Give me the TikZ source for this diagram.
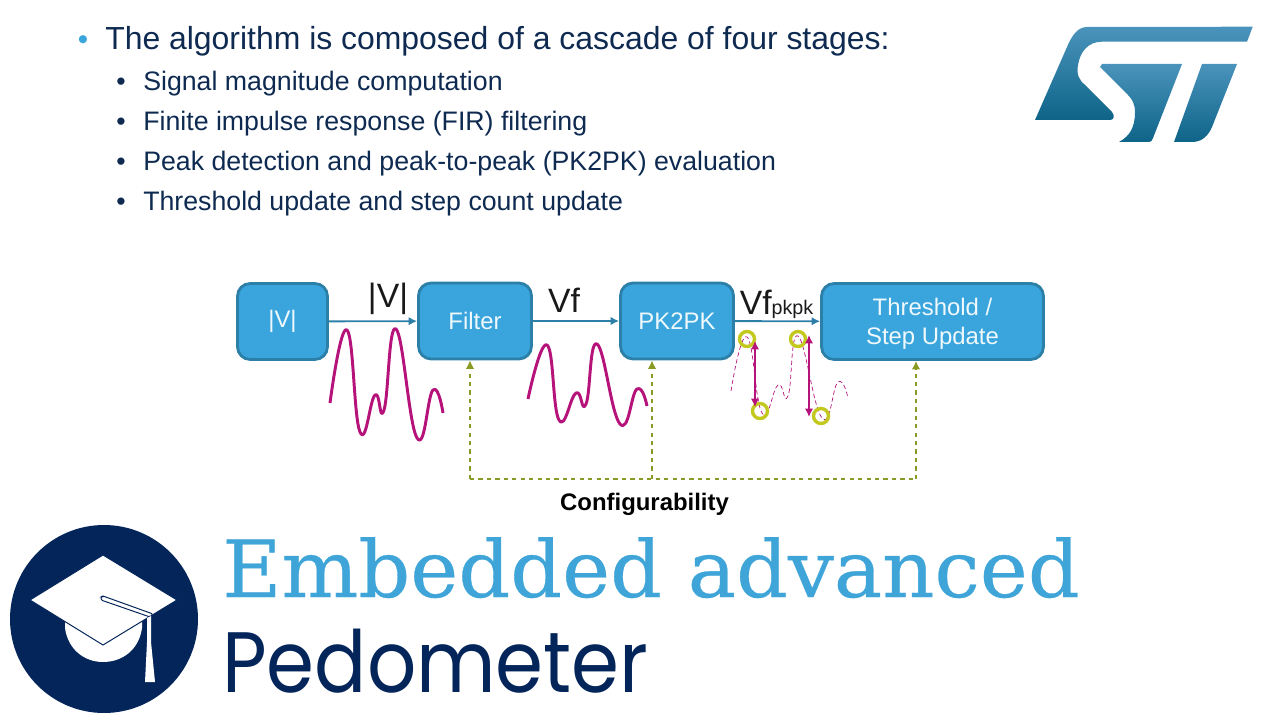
\documentclass[tikz,border=0pt]{standalone}
\usepackage{fontspec}
\setmainfont{Liberation Sans}
\newfontfamily\slabfont[FakeStretch=1.03, FakeBold=0.4]{DejaVu Serif}
\newfontfamily\roundfont[FakeStretch=0.9]{Poppins}
\usetikzlibrary{arrows.meta, positioning, calc}
\definecolor{stblue}{HTML}{39A5DC}
\definecolor{sttitle}{HTML}{3FA5D8}
\definecolor{stedge}{HTML}{2C7FA6}
\definecolor{stnavy}{HTML}{03255A}
\definecolor{stink}{HTML}{0E2A50}
\definecolor{stwave}{HTML}{B5127A}
\definecolor{stolive}{HTML}{8A9A24}
\definecolor{string}{HTML}{C3C81F}
\definecolor{sttop}{HTML}{4A93BC}
\definecolor{stlow}{HTML}{0E6488}

\begin{document}
\begin{tikzpicture}[x=0.025cm, y=-0.025cm,
    blockbox/.style={draw=stedge, fill=stblue, line width=2pt, rounded corners=9pt, text=white!92!stblue, align=center, font=\fontsize{17}{20.6}\selectfont},
    link/.style={draw=stedge, line width=1.3pt, -{Latex[length=6pt, width=6pt]}},
    config/.style={draw=stolive, line width=1.1pt, dashed},
    configtip/.style={config, -{Latex[length=6pt, width=6pt]}},
    wave/.style={draw=stwave, line width=2.1pt, line join=round},
    thinwave/.style={draw=stwave, line width=0.5pt, densely dashed},
    swing/.style={draw=stwave, line width=1.6pt, {Latex[length=6pt, width=6pt]}-{Latex[length=6pt, width=6pt]}},
    peakmark/.style={draw=string, line width=2.4pt},
    logopart/.style={top color=sttop, bottom color=stlow, draw=none},
    listtext/.style={anchor=base west, text=stink, font=\fontsize{19}{22}\selectfont},
    listdot/.style={anchor=base, text=stink, font=\fontsize{19}{22}\selectfont},
    flowlabel/.style={inner sep=0pt, text=black!90, font=\fontsize{24}{24}\selectfont}]
    \useasboundingbox (0,0) rectangle (1280,720);

    % bullet list
    \node[anchor=base, text=stblue, font=\fontsize{21}{24}\selectfont] (top dot) at (83,50) {•};
    \node[anchor=base west, inner sep=0pt, text=stink, font=\fontsize{22.7}{24}\selectfont] (top line) at (105,50) {The algorithm is composed of a cascade of four stages:};
    \foreach \i/\y/\t in {1/91/Signal magnitude computation, 2/131/Finite impulse response (FIR) filtering, 3/171/Peak detection and peak-to-peak (PK2PK) evaluation, 4/211/Threshold update and step count update} {
        \node[listdot, inner sep=0pt] (dot\i) at (121,\y) {•};
        \node[listtext, inner sep=0pt] (item\i) at (143,\y) {\t};
    }

    % logo
    \shade[logopart] (1252.7,26.7) -- (1247,41.7) -- (1102,41.7) .. controls (1088,41.7) and (1080,52) .. (1078,65) .. controls (1076,75) and (1080,81) .. (1085,85) -- (1112,112) .. controls (1115,116) and (1114,120) .. (1110,120) -- (1035,120) -- (1067,47) .. controls (1072,35) and (1078,27) .. (1087,27) -- cycle;
    \shade[logopart] (1100,67) -- (1102,64) -- (1182,64) -- (1153,138) .. controls (1152,141) and (1151,142) .. (1149,142) -- (1119,142) .. controls (1130,136) and (1135,127) .. (1135,112) .. controls (1135,104) and (1132,99) .. (1128,95) -- cycle;
    \shade[logopart] (1202,64) -- (1237,64) -- (1212,127) .. controls (1208,136) and (1202,142) .. (1192,142) -- (1174,142) -- cycle;

    % blocks
    \node[blockbox, minimum width=90pt*0.711, minimum height=76pt*0.711] (mag) at (282.5,321.5) {|V|};
    \node[blockbox, minimum width=113pt*0.711, minimum height=76pt*0.711] (filter) at (475,321) {Filter};
    \node[blockbox, minimum width=113pt*0.711, minimum height=76pt*0.711] (pk) at (677,321) {PK2PK};
    \node[blockbox, minimum width=222pt*0.711, minimum height=76pt*0.711] (update) at (932.5,321.5) {\rule{0pt}{15pt}Threshold /\\Step Update};

    \draw[link] (mag) -- (filter);
    \draw[link] (filter) -- (pk);
    \draw[link] (pk) -- (update);

    \node[flowlabel] (lab mag) at (388,299) {|V|};
    \node[flowlabel] (lab vf) at (564,300) {Vf};
    \node[flowlabel] (lab pk) at (776.5,304) {Vf{\fontsize{14}{14}\selectfont pkpk}};

    % signals
    \draw[wave] plot[smooth, tension=0.8] coordinates {(330,403) (347,330) (360,432) (375,395) (384,410) (396,329) (417,438) (433,390) (443,413)};
    \draw[wave] plot[smooth, tension=0.8] coordinates {(528,399) (547,345) (559,420) (576,393) (586,404) (597,344) (620,424) (637,389) (647,406)};
    \draw[thinwave] plot[smooth, tension=0.8] coordinates {(731,391) (747,337) (762,413) (778,385) (788,396) (798,336) (822,418) (838,382) (848,398)};

    \foreach \i/\p in {1/{747,339}, 2/{760,411}, 3/{798,339}, 4/{821,416}}
        \draw[peakmark] (\p) circle (7.5);
    \draw[swing] (755,341) -- (755,407);
    \draw[swing] (809,335) -- (809,417);

    % configuration lines
    \coordinate (bus1) at (470,479);
    \coordinate (bus2) at (652,479);
    \coordinate (bus3) at (916,479);
    \draw[config] (bus1) -- (bus2) -- (bus3);
    \draw[configtip] (bus1) -- (bus1 |- filter.south);
    \draw[configtip] (bus2) -- (bus2 |- pk.south);
    \draw[configtip] (bus3) -- (bus3 |- update.south);
    \node[inner sep=0pt, font=\bfseries\fontsize{17}{18}\selectfont] (config label) at (644.5,504) {Configurability};

    % badge
    \fill[stnavy] (104,619) circle (94);
    \fill[white] (65,620) -- (65,628) .. controls (68,650) and (85,662) .. (103,662) .. controls (122,662) and (139,650) .. (142,628) -- (142,620) -- cycle;
    \fill[white, draw=stnavy, line width=0.7pt] (103,555) -- (177,600) -- (103,645) -- (30,600) -- cycle;
    \draw[stnavy, line width=0.7pt, fill=white, rounded corners=1pt] (101,597) -- (103,596) -- (153,614) -- (150,617) -- (101,600) -- cycle;
    \fill[white] (147,618) -- (151,616) -- (151,642) -- (155,682) -- (145,682) -- (147,642) -- cycle;

    % title
    \node[anchor=base west, inner sep=0pt, text=sttitle, font=\slabfont\fontsize{56}{60}\selectfont] (title) at (222,597) {Embedded advanced};
    \node[anchor=base west, inner sep=0pt, text=stnavy, font=\roundfont\fontsize{61}{66}\selectfont] (subtitle) at (222,692) {Pedometer};
\end{tikzpicture}
\end{document}
